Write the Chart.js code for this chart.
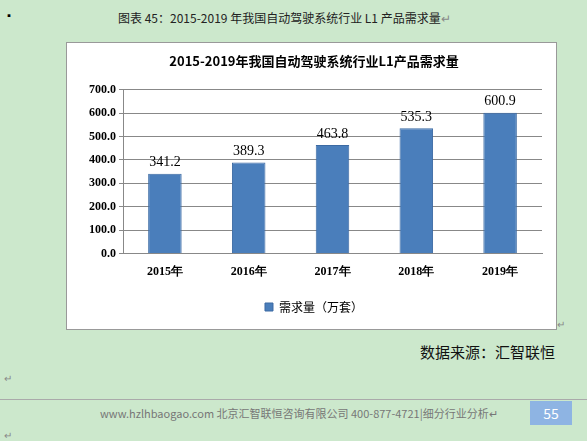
<!DOCTYPE html>
<html><head><meta charset="utf-8">
<script src="https://cdn.jsdelivr.net/npm/chart.js@4"></script>
<style>
body{margin:0;width:587px;height:441px;background:#cce8cc;position:relative;overflow:hidden;font-family:"Noto Sans CJK SC",sans-serif;}
.t{position:absolute;white-space:nowrap;}
#box{position:absolute;left:66px;top:42px;width:489px;height:286px;background:#fff;border:1px solid #999;}
</style></head><body>
<div class="t" style="left:4px;top:8px;font-size:10px">▪</div>
<div class="t" style="left:118px;top:9px;font-size:12px;color:#222">图表 45：2015-2019 年我国自动驾驶系统行业 L1 产品需求量<span style="color:#888">↵</span></div>
<div id="box"><canvas id="c" width="489" height="286"></canvas></div>
<div class="t" style="left:557px;top:316px;font-size:10px;color:#888">↵</div>
<div class="t" style="left:420px;top:341px;font-size:15px;color:#111">数据来源：汇智联恒</div>
<div class="t" style="left:4px;top:370px;font-size:10px;color:#888">↵</div>
<div style="position:absolute;left:0;top:399px;width:587px;height:1px;background:#aaa"></div>
<div class="t" style="left:100px;top:405px;font-size:11px;color:#777">www.hzlhbaogao.com 北京汇智联恒咨询有限公司 400-877-4721|细分行业分析↵</div>
<div style="position:absolute;left:530px;top:401px;width:42px;height:24px;background:#8eb4e3;color:#fff;font-size:14px;text-align:center;line-height:24px">55</div>
<div class="t" style="left:4px;top:427px;font-size:10px;color:#888">↵</div>
<script>
const categories=["2015年","2016年","2017年","2018年","2019年"];
const demand=[341.2,389.3,463.8,535.3,600.9];
const seriesName="需求量（万套）";
const labelPlugin={id:'lbl',afterDatasetsDraw(ch){const c=ch.ctx;const m=ch.getDatasetMeta(0);c.save();c.font='14px "Times New Roman",serif';c.fillStyle='#000';c.textAlign='center';c.textBaseline='bottom';m.data.forEach((b,i)=>c.fillText(demand[i].toFixed(1),b.x,b.y-4));c.restore();}};
new Chart(document.getElementById('c'),{type:'bar',
data:{labels:categories,datasets:[{label:seriesName,data:demand,backgroundColor:'#4a7ebb',borderColor:'#3c6aa3',borderWidth:1,barPercentage:0.4,categoryPercentage:1}]},
options:{responsive:false,animation:false,layout:{padding:{left:19,right:14,top:0,bottom:6}},
plugins:{title:{display:true,text:'2015-2019年我国自动驾驶系统行业L1产品需求量',font:{size:13,weight:'bold',family:'"Noto Sans CJK SC"'},color:'#000',padding:{top:10,bottom:21}},
legend:{position:'bottom',labels:{boxWidth:8,boxHeight:8,font:{size:12,family:'"Noto Sans CJK SC"'},color:'#000',padding:19}},tooltip:{enabled:false}},
scales:{y:{min:0,max:700,ticks:{stepSize:100,callback:v=>v.toFixed(1),font:{size:12,weight:'bold',family:'"Times New Roman",serif'},color:'#000'},grid:{color:'#888',drawTicks:true,tickLength:4},border:{color:'#888'}},
x:{grid:{display:false},ticks:{font:{size:12,weight:'bold',family:'"Times New Roman",serif'},color:'#000'},border:{color:'#888'}}}},
plugins:[labelPlugin]});
</script></body></html>
